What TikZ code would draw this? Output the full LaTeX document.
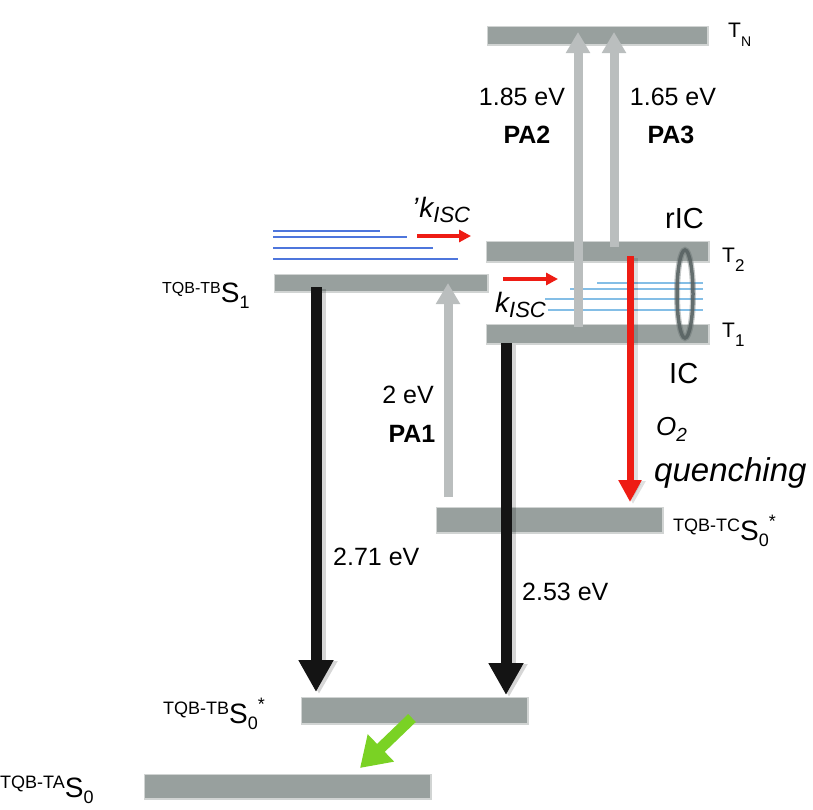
\documentclass[tikz,border=0pt]{standalone}
\usepackage{fontspec}
\setmainfont{Liberation Sans}
\usetikzlibrary{arrows.meta,shapes.geometric}
\definecolor{lvlgray}{RGB}{152,160,158}
\definecolor{pagray}{RGB}{186,190,190}
\definecolor{isred}{RGB}{238,28,20}
\definecolor{grn}{RGB}{122,210,36}
\definecolor{blu}{RGB}{78,118,220}
\definecolor{lblu}{RGB}{132,190,230}
\definecolor{ringc}{RGB}{90,100,100}
\newcommand{\fs}[1]{\fontsize{#1}{#1}\selectfont}
\newcommand{\lvlab}[4]{{\fs{#4}\raisebox{9pt}{#1}}{\fs{28}S}{\fs{18}\raisebox{-6pt}{#2}}{\fs{18}\raisebox{13pt}{#3}}}
\newcommand{\Tlab}[2]{{\fs{21}T}{\fs{#2}\raisebox{-9pt}{#1}}}
\newcommand{\kisc}{{\fs{28}\itshape k}{\fs{22}\itshape\raisebox{-5pt}{ISC}}}
\begin{document}
\begin{tikzpicture}[x=1pt,y=-1pt,
  lvl/.style={fill=lvlgray, draw=lvlgray, draw opacity=0.45, line width=3pt, inner sep=0, rectangle},
  garrow/.style={draw=pagray, line width=9pt, -{Triangle[width=23pt,length=21pt]}},
  barrow/.style={draw=black!92, line width=11pt, -{Triangle[width=33pt,length=32pt]}},
  shad/.style={draw=black, draw opacity=0.16, fill opacity=0.16, line width=13pt, -{Triangle[width=35pt,length=33pt]}},
  rshad/.style={draw=black, draw opacity=0.12, fill opacity=0.12, line width=9pt, -{Triangle[width=24pt,length=23pt]}},
  rsmall/.style={draw=isred, line width=4pt, -{Triangle[width=12pt,length=12pt]}},
  rbig/.style={draw=isred, line width=7pt, -{Triangle[width=22pt,length=22pt]}},
  garr/.style={draw=grn, line width=11pt, -{Triangle[width=36pt,length=29pt]}},
  mlines/.style={draw=blu, line width=1.5pt},
  tlines/.style={draw=lblu, line width=1.5pt},
  ringst/.style={draw=ringc, ellipse, minimum width=16pt, minimum height=88pt, inner sep=0},
  lab/.style={inner sep=0, anchor=base west},
  labc/.style={inner sep=0, anchor=base},
  num/.style={font=\fs{25}},
  bnum/.style={font=\fs{25}\bfseries}]
\useasboundingbox (0,0) rectangle (813,809);
% levels
\node[lvl, minimum width=219pt, minimum height=17pt] (TN) at (597.5,35.5) {};
\node[lvl, minimum width=221pt, minimum height=19pt] (T2) at (597.5,251.5) {};
\node[lvl, minimum width=221pt, minimum height=18pt] (T1) at (597.5,334) {};
\node[lvl, minimum width=212pt, minimum height=16pt] (S1) at (381,283) {};
\node[lvl, minimum width=225pt, minimum height=24pt] (SC) at (549.5,520) {};
\node[lvl, minimum width=225pt, minimum height=25pt] (SB) at (414.5,710.5) {};
\node[lvl, minimum width=285pt, minimum height=23pt] (SA) at (287.5,786.5) {};
% manifolds
\coordinate (m1a) at (273,231); \coordinate (m1b) at (380,231);
\coordinate (m2a) at (273,237); \coordinate (m2b) at (407,237);
\coordinate (m3a) at (273,248); \coordinate (m3b) at (433,248);
\coordinate (m4a) at (273,259); \coordinate (m4b) at (458,259);
\draw[mlines] (m1a) -- (m1b);
\draw[mlines] (m2a) -- (m2b);
\draw[mlines] (m3a) -- (m3b);
\draw[mlines] (m4a) -- (m4b);
\coordinate (t1a) at (597,283); \coordinate (t1b) at (703,283);
\coordinate (t2a) at (570,289); \coordinate (t2b) at (703,289);
\coordinate (t3a) at (545,299); \coordinate (t3b) at (703,299);
\coordinate (t4a) at (548,310); \coordinate (t4b) at (703,310);
\draw[tlines] (t1a) -- (t1b);
\draw[tlines] (t2a) -- (t2b);
\draw[tlines] (t3a) -- (t3b);
\draw[tlines] (t4a) -- (t4b);
% ring (soft edge + core)
\node[ringst, line width=6pt, draw opacity=0.35] (ringsoft) at (685,294) {};
\node[ringst, line width=3.5pt, draw opacity=0.9] (ring) at (685,294) {};
% arrow end points
\coordinate (pa1s) at (448,497); \coordinate (pa1e) at (448,283);
\coordinate (pa2s) at (578,327); \coordinate (pa2e) at (578,32);
\coordinate (pa3s) at (614,247); \coordinate (pa3e) at (614,32);
\coordinate (b1s) at (316,287); \coordinate (b1e) at (316,692);
\coordinate (b2s) at (506,343); \coordinate (b2e) at (506,695);
\coordinate (k1s) at (417,236); \coordinate (k1e) at (471,236);
\coordinate (k2s) at (503,279); \coordinate (k2e) at (558,279);
\coordinate (qs) at (630,256); \coordinate (qe) at (630,502);
\coordinate (gs) at (412,718); \coordinate (ge) at (360,768);
% shadows
\draw[shad] ([shift={(3,2)}]b1s) -- ([shift={(3,2)}]b1e);
\draw[shad] ([shift={(3,2)}]b2s) -- ([shift={(3,2)}]b2e);
\draw[rshad] ([shift={(3,2)}]qs) -- ([shift={(3,2)}]qe);
% arrows
\draw[garrow] (pa1s) -- (pa1e);
\draw[garrow] (pa2s) -- (pa2e);
\draw[garrow] (pa3s) -- (pa3e);
\draw[barrow] (b1s) -- (b1e);
\draw[barrow] (b2s) -- (b2e);
\draw[rsmall] (k1s) -- (k1e);
\draw[rsmall] (k2s) -- (k2e);
\draw[rbig] (qs) -- (qe);
\draw[garr] (gs) -- (ge);
% labels
\node[lab] (lTN) at (728,37) {\Tlab{N}{14}};
\node[lab] (lT2) at (722,262) {\Tlab{2}{17}};
\node[lab] (lT1) at (722,337) {\Tlab{1}{17}};
\node[lab, font=\fs{29}] (lrIC) at (665,228) {rIC};
\node[lab, font=\fs{29}] (lIC) at (669,383) {IC};
\node[labc, num] (e185) at (522,105) {1.85 eV};
\node[labc, bnum] (pa2) at (527,143) {PA2};
\node[labc, num] (e165) at (673,105) {1.65 eV};
\node[labc, bnum] (pa3) at (671,143) {PA3};
\node[lab] (lk1) at (412,217) {{\fs{28}\itshape '\kern1pt}\kisc};
\node[lab] (lk2) at (495,312) {\kisc};
\node[labc, num] (e2) at (408,403) {2 eV};
\node[labc, bnum] (pa1) at (412,442) {PA1};
\node[lab] (lO2) at (656,435) {{\fs{26}\itshape O}{\fs{19}\itshape\raisebox{-6pt}{2}}};
\node[lab, font=\fs{33}\itshape] (lq) at (654,481) {quenching};
\node[lab, num] (e271) at (333,565) {2.71 eV};
\node[lab, num] (e253) at (522,600) {2.53 eV};
\node[lab] (lS1) at (162,302) {\lvlab{TQB-TB}{1}{}{16}};
\node[lab] (lSC) at (673,540) {\lvlab{TQB-TC}{0}{*}{18}};
\node[lab] (lSB) at (163,723) {\lvlab{TQB-TB}{0}{*}{18}};
\node[lab] (lSA) at (0,797) {\lvlab{TQB-TA}{0}{}{18}};
\end{tikzpicture}
\end{document}
